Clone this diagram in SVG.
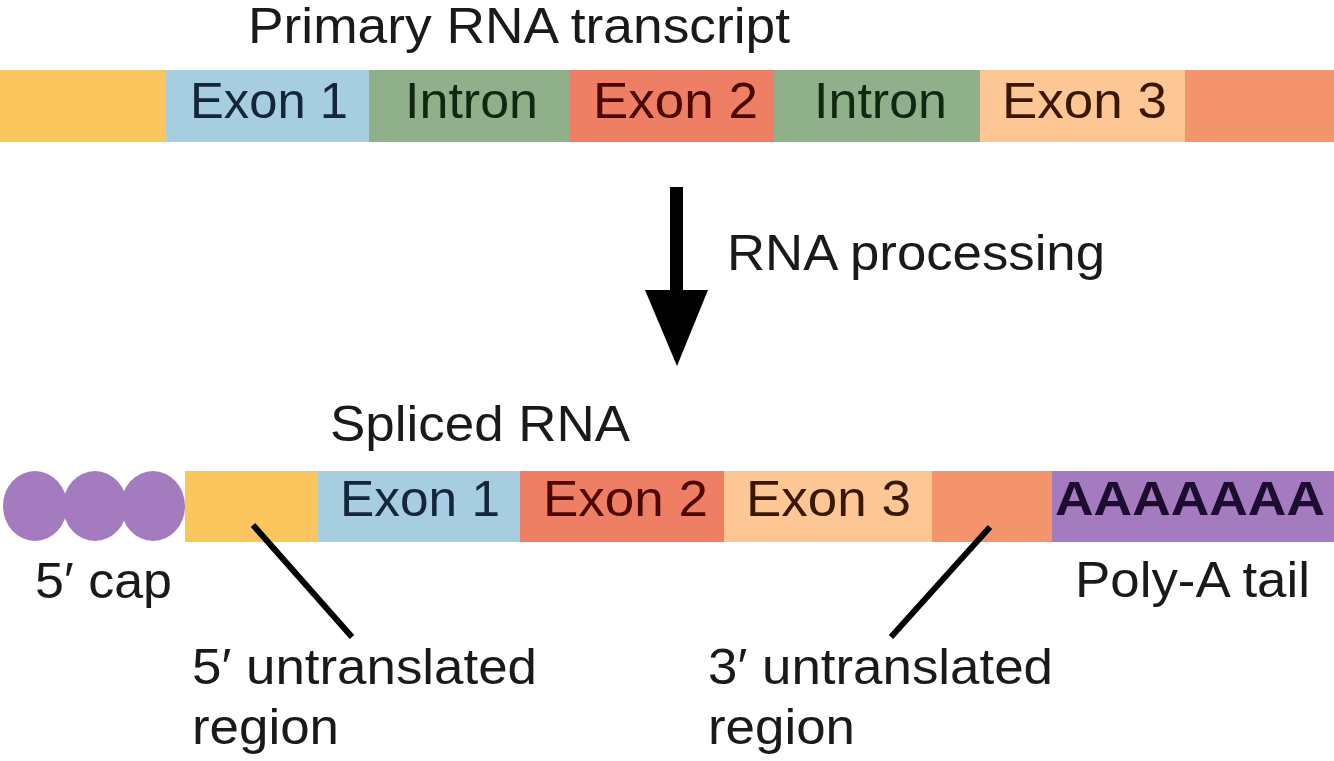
<svg xmlns="http://www.w3.org/2000/svg" width="1334" height="761" viewBox="0 0 1334 761">
<style>
text{font-family:"Liberation Sans",Arial,sans-serif;font-size:50px;fill:#1a1a1a}
.e1{fill:#14263a}.in{fill:#10280f}.e2{fill:#4a0800}.e3{fill:#3a1800}
.aa{font-weight:bold;fill:#1c0c30;font-size:48px}
.ptr{stroke:#000;stroke-width:6;stroke-linecap:butt}
</style>
<rect width="1334" height="761" fill="#fff"/>
<g id="primary-title"><text x="248" y="43" textLength="542" lengthAdjust="spacingAndGlyphs">Primary RNA transcript</text></g>
<g id="primary">
<rect x="0" y="70" width="166" height="72" fill="#fbc65e"/>
<rect x="166" y="70" width="203" height="72" fill="#a7cde1"/>
<rect x="369" y="70" width="200" height="72" fill="#8fb08b"/>
<rect x="569" y="70" width="205" height="72" fill="#ef7f64"/>
<rect x="774" y="70" width="206" height="72" fill="#8fb08b"/>
<rect x="980" y="70" width="205" height="72" fill="#fcc794"/>
<rect x="1185" y="70" width="149" height="72" fill="#f4946c"/>
<text class="e1" x="190" y="118" textLength="158" lengthAdjust="spacingAndGlyphs">Exon 1</text>
<text class="in" x="405" y="118" textLength="133" lengthAdjust="spacingAndGlyphs">Intron</text>
<text class="e2" x="593" y="118" textLength="165" lengthAdjust="spacingAndGlyphs">Exon 2</text>
<text class="in" x="814" y="118" textLength="133" lengthAdjust="spacingAndGlyphs">Intron</text>
<text class="e3" x="1002" y="118" textLength="165" lengthAdjust="spacingAndGlyphs">Exon 3</text>
</g>
<g id="processing">
<rect x="670" y="187" width="13" height="105" fill="#000"/>
<polygon points="645,290 708,290 677,366" fill="#000"/>
<text x="727" y="270" textLength="378" lengthAdjust="spacingAndGlyphs">RNA processing</text>
</g>
<g id="spliced-title"><text x="330" y="441" textLength="300" lengthAdjust="spacingAndGlyphs">Spliced RNA</text></g>
<g id="cap">
<ellipse cx="35" cy="506" rx="32" ry="35" fill="#a57bc0"/>
<ellipse cx="95" cy="506" rx="32" ry="35" fill="#a57bc0"/>
<ellipse cx="153" cy="506" rx="32" ry="35" fill="#a57bc0"/>
<text x="35" y="598" textLength="137" lengthAdjust="spacingAndGlyphs">5′ cap</text>
</g>
<g id="spliced">
<rect x="185" y="471" width="133" height="71" fill="#fbc65e"/>
<rect x="318" y="471" width="202" height="71" fill="#a7cde1"/>
<rect x="520" y="471" width="204" height="71" fill="#ef7f64"/>
<rect x="724" y="471" width="208" height="71" fill="#fcc794"/>
<rect x="932" y="471" width="120" height="71" fill="#f4946c"/>
<rect x="1052" y="471" width="282" height="71" fill="#a57bc0"/>
<text class="e1" x="340" y="516" textLength="160" lengthAdjust="spacingAndGlyphs">Exon 1</text>
<text class="e2" x="543" y="516" textLength="165" lengthAdjust="spacingAndGlyphs">Exon 2</text>
<text class="e3" x="746" y="516" textLength="165" lengthAdjust="spacingAndGlyphs">Exon 3</text>
<text class="aa" x="1055" y="515" textLength="270" lengthAdjust="spacingAndGlyphs">AAAAAAA</text>
</g>
<g id="connectors">
<line class="ptr" x1="253" y1="525" x2="352" y2="637"/>
<line class="ptr" x1="990" y1="527" x2="891" y2="637"/>
</g>
<g id="utr5">
<text x="192" y="684" textLength="345" lengthAdjust="spacingAndGlyphs">5′ untranslated</text>
<text x="192" y="744" textLength="147" lengthAdjust="spacingAndGlyphs">region</text>
</g>
<g id="utr3">
<text x="708" y="684" textLength="345" lengthAdjust="spacingAndGlyphs">3′ untranslated</text>
<text x="708" y="744" textLength="147" lengthAdjust="spacingAndGlyphs">region</text>
</g>
<g id="polya"><text x="1075" y="597" textLength="235" lengthAdjust="spacingAndGlyphs">Poly-A tail</text></g>
</svg>
